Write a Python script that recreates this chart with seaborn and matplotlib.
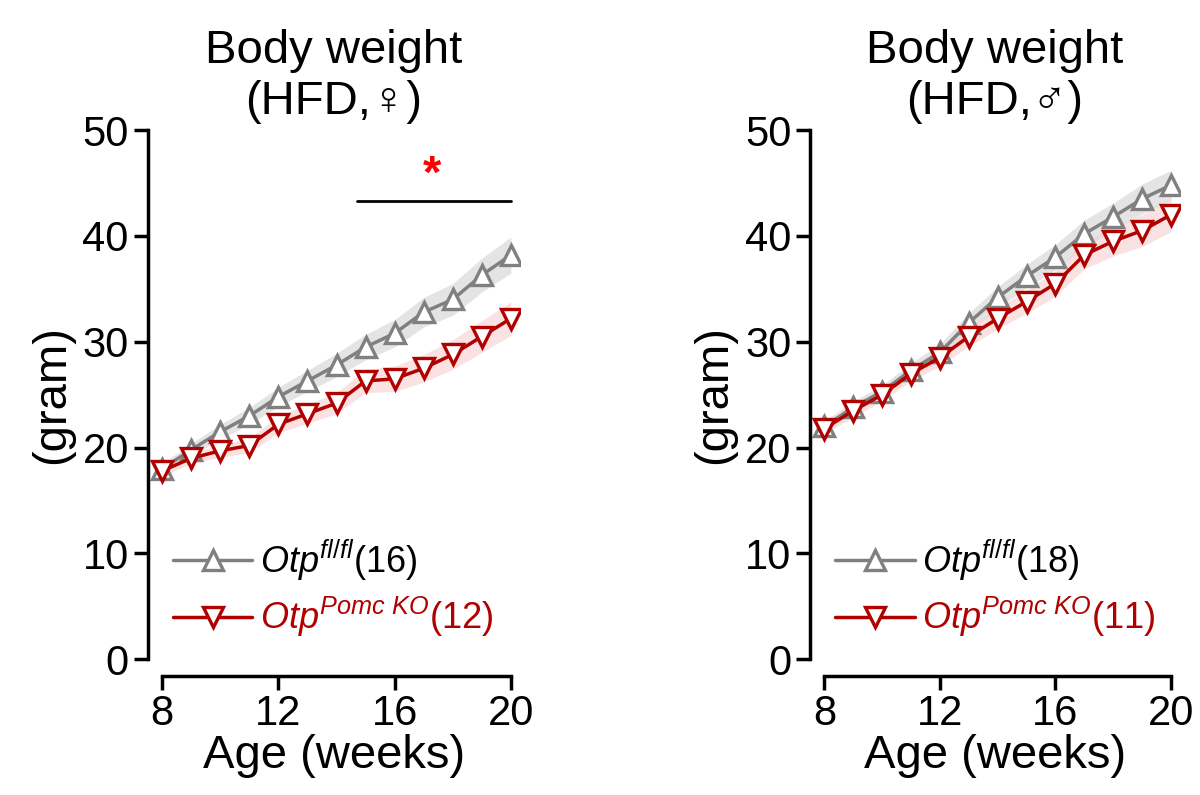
import matplotlib
matplotlib.use("Agg")
import matplotlib.pyplot as plt
import seaborn as sns
import numpy as np
import pandas as pd

weeks = list(range(8, 21))
f_ctrl = [18.0, 19.8, 21.5, 23.0, 24.8, 26.3, 27.8, 29.5, 30.8, 32.8, 34.0, 36.3, 38.2]
f_ko = [17.8, 19.0, 19.7, 20.2, 22.2, 23.2, 24.2, 26.3, 26.5, 27.5, 28.8, 30.5, 32.2]
f_ctrl_sem = [0.5, 0.6, 0.7, 0.8, 0.9, 1.0, 1.1, 1.2, 1.3, 1.4, 1.5, 1.6, 1.7]
f_ko_sem = [0.5, 0.5, 0.6, 0.7, 0.8, 0.9, 1.0, 1.1, 1.2, 1.3, 1.4, 1.5, 1.6]
m_ctrl = [22.0, 23.8, 25.3, 27.3, 29.0, 31.8, 34.2, 36.2, 38.0, 40.2, 41.8, 43.5, 44.8]
m_ko = [21.8, 23.5, 25.0, 27.0, 28.5, 30.5, 32.2, 33.8, 35.5, 38.2, 39.5, 40.5, 42.0]
m_ctrl_sem = [0.5, 0.6, 0.6, 0.7, 0.8, 0.9, 1.0, 1.1, 1.2, 1.3, 1.3, 1.4, 1.4]
m_ko_sem = [0.5, 0.6, 0.6, 0.7, 0.8, 0.9, 1.0, 1.1, 1.2, 1.3, 1.4, 1.5, 1.6]

titles = ["Body weight\n(HFD,♀)", "Body weight\n(HFD,♂)"]
n_ctrl = [16, 18]
n_ko = [12, 11]
xticks = [8, 12, 16, 20]
yticks = [0, 10, 20, 30, 40, 50]

sns.set_theme(style="white")
plt.rcParams['font.family'] = ['Liberation Sans', 'DejaVu Sans']
plt.rcParams['mathtext.fontset'] = 'custom'
plt.rcParams['mathtext.it'] = 'Liberation Sans:italic'
plt.rcParams['mathtext.rm'] = 'Liberation Sans'
plt.rcParams['text.color'] = 'black'
plt.rcParams['axes.labelcolor'] = 'black'

GRAY = '#808080'
RED = '#b00000'

fig = plt.figure(figsize=(12, 7.95), dpi=100)
axes = [fig.add_axes([0.123, 0.164, 0.31, 0.679]),
        fig.add_axes([0.675, 0.164, 0.308, 0.679])]
data = [(f_ctrl, f_ctrl_sem, f_ko, f_ko_sem), (m_ctrl, m_ctrl_sem, m_ko, m_ko_sem)]

for i, ax in enumerate(axes):
    c, cs, k, ks = data[i]
    df = pd.DataFrame({"week": weeks * 2, "w": c + k,
                       "g": ["ctrl"] * 13 + ["ko"] * 13})
    c = np.array(c); cs = np.array(cs); k = np.array(k); ks = np.array(ks)
    ax.fill_between(weeks, c - cs, c + cs, color='#d9d9d9', alpha=0.7, lw=0)
    ax.fill_between(weeks, k - ks, k + ks, color='#f8d0d0', alpha=0.6, lw=0)
    sns.lineplot(data=df[df.g == "ctrl"], x="week", y="w", ax=ax, color=GRAY, lw=2.5,
                 marker='^', markersize=14, markerfacecolor='white', markeredgecolor=GRAY,
                 markeredgewidth=2.4, label=r"$\it{Otp}^{\it{fl/fl}}$" + f"({n_ctrl[i]})")
    sns.lineplot(data=df[df.g == "ko"], x="week", y="w", ax=ax, color=RED, lw=2.5,
                 marker='v', markersize=14, markerfacecolor='white', markeredgecolor=RED,
                 markeredgewidth=2.4, label=r"$\it{Otp}^{\it{Pomc\ KO}}$" + f"({n_ko[i]})")
    ax.set_xlim(7.5, 20.3)
    ax.set_ylim(-0.5, 50.5)
    ax.set_xticks(xticks)
    ax.set_yticks(yticks)
    ax.tick_params(axis='both', labelsize=30, direction='out', length=10, width=2.5,
                   left=True, bottom=True, colors='black', labelcolor='black')
    for s in ['top', 'right']:
        ax.spines[s].set_visible(False)
    for s in ['left', 'bottom']:
        ax.spines[s].set_linewidth(2.5)
        ax.spines[s].set_color('black')
    ax.spines['bottom'].set_position(('outward', 8))
    ax.spines['bottom'].set_bounds(8, 20)
    ax.spines['left'].set_bounds(0, 50)
    ax.set_xlabel("Age (weeks)", fontsize=34, labelpad=0, color='black')
    ax.set_ylabel("(gram)", fontsize=34, labelpad=6, color='black')
    ax.set_title(titles[i], fontsize=34, pad=8, color='black',
                 family=['Liberation Sans', 'DejaVu Sans'])
    leg = ax.legend(loc='lower left', bbox_to_anchor=(0.0, 0.0), frameon=False,
                    fontsize=26, handlelength=2.2, handletextpad=0.2, borderaxespad=0.3,
                    labelspacing=0.35)
    leg.get_texts()[0].set_color('black')
    leg.get_texts()[1].set_color(RED)

axes[0].plot([14.7, 20], [43.3, 43.3], color='black', lw=2)
axes[0].text(17.3, 43.6, "*", color='red', fontsize=34, ha='center', va='bottom', fontweight='bold')

fig.savefig("out.png", dpi=100)
